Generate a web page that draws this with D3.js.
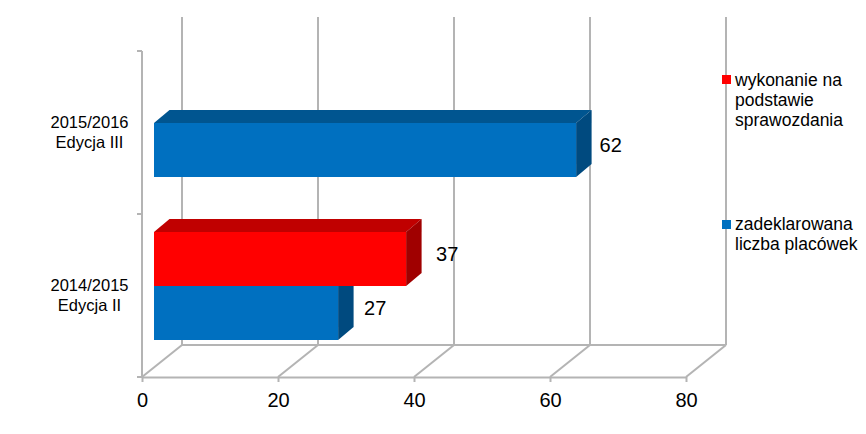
<!DOCTYPE html>
<html>
<head>
<meta charset="utf-8">
<script src="https://cdn.jsdelivr.net/npm/d3@7.9.0/dist/d3.min.js"></script>
<style>
  html, body { margin: 0; padding: 0; background: #fff; }
  svg { display: block; font-family: "Liberation Sans", Arial, sans-serif; }
</style>
</head>
<body>
<svg id="chart" width="866" height="434"></svg>
<script>
let categories = ['2014/2015', '2015/2016'];
let categoryEditions = ['Edycja II', 'Edycja III'];
let declared = [27, 62];
let reported = [37, null];
let xTicks = [0, 20, 40, 60, 80];

let legendRed = ['wykonanie na', 'podstawie', 'sprawozdania'];
let legendBlue = ['zadeklarowana', 'liczba placówek'];

let series = [
  { values: declared, slot: 0, front: '#0070c0', top: '#005590', side: '#004a7f', labelGaps: [26, 23.5] },
  { values: reported, slot: -1, front: '#ff0000', top: '#c00000', side: '#a00000', labelGaps: [30, 30] }
];

let svg = d3.select('#chart');
let gridColor = '#b4b4b4';

// front edge of the floor, the back wall sits up and to the right of it
let margin = { left: 142, right: 686, top: 51, bottom: 377 };
let wallDx = 40, wallDy = -32, wallTop = 17;
let barDx = 15.5, barDy = -13;
let barInset = 12, barHeight = 54, barShift = 13.5 - 23;

let x = d3.scaleLinear().domain([0, 80]).range([margin.left, margin.right]);
let y = d3.scaleBand().domain(categories).range([margin.bottom, margin.top]);

// walls and floor
let grid = svg.append('g').attr('stroke', gridColor).attr('stroke-width', 2).attr('fill', 'none');

grid.selectAll('.wall')
  .data(xTicks)
  .join('line')
  .attr('class', 'wall')
  .attr('x1', d => x(d) + wallDx)
  .attr('x2', d => x(d) + wallDx)
  .attr('y1', wallTop)
  .attr('y2', margin.bottom + wallDy);

grid.selectAll('.floor')
  .data(xTicks)
  .join('line')
  .attr('class', 'floor')
  .attr('x1', d => x(d))
  .attr('x2', d => x(d) + wallDx)
  .attr('y1', margin.bottom)
  .attr('y2', margin.bottom + wallDy);

grid.append('line')
  .attr('x1', x(0) + wallDx)
  .attr('x2', x(80) + wallDx)
  .attr('y1', margin.bottom + wallDy)
  .attr('y2', margin.bottom + wallDy);

// axes
let xAxis = svg.append('g')
  .attr('transform', `translate(0,${margin.bottom})`)
  .call(d3.axisBottom(x).tickValues(xTicks).tickSize(5).tickSizeOuter(0).tickPadding(11));
xAxis.select('.domain').attr('stroke', gridColor).attr('stroke-width', 2);
xAxis.selectAll('.tick line').attr('stroke', gridColor).attr('stroke-width', 2);
xAxis.selectAll('.tick text').attr('font-size', 20).attr('font-family', '"Liberation Sans", Arial, sans-serif').attr('fill', '#000');

let yAxis = svg.append('g')
  .attr('transform', `translate(${margin.left},0)`)
  .call(d3.axisLeft(y).tickValues([]).tickSize(0));
yAxis.select('.domain').attr('stroke', gridColor).attr('stroke-width', 2).attr('d', `M0,${margin.top}V${margin.bottom}`);
yAxis.selectAll('.cat-tick')
  .data([margin.top, (margin.top + margin.bottom) / 2, margin.bottom])
  .join('line')
  .attr('class', 'cat-tick')
  .attr('x1', -5)
  .attr('x2', 0)
  .attr('y1', d => d)
  .attr('y2', d => d)
  .attr('stroke', gridColor)
  .attr('stroke-width', 2);

// category labels
categories.forEach((c, i) => {
  let cy = y(c) + y.bandwidth() / 2;
  let t = svg.append('text')
    .attr('text-anchor', 'middle')
    .attr('font-size', 16.5)
    .attr('fill', '#000');
  t.append('tspan').attr('x', 89.5).attr('y', cy - 5).text(c);
  t.append('tspan').attr('x', 89.5).attr('y', cy + 15).text(categoryEditions[i]);
});

// bars
series.forEach(s => {
  let rows = categories
    .map((c, i) => ({ category: c, value: s.values[i], gap: s.labelGaps[i] }))
    .filter(d => d.value != null);

  let barY = d => y(d.category) + y.bandwidth() / 2 + barShift + s.slot * barHeight;
  let left = x(0) + barInset;
  let right = d => x(d.value) + barInset + 0.5;
  let bars = svg.append('g').selectAll('g').data(rows).join('g');

  bars.append('path')
    .attr('fill', s.top)
    .attr('d', d => `M${left},${barY(d)}l${barDx},${barDy}H${right(d) + barDx}l${-barDx},${-barDy}Z`);
  bars.append('path')
    .attr('fill', s.side)
    .attr('d', d => `M${right(d)},${barY(d)}l${barDx},${barDy}v${barHeight}l${-barDx},${-barDy}Z`);
  bars.append('rect')
    .attr('fill', s.front)
    .attr('x', left)
    .attr('y', barY)
    .attr('width', d => right(d) - left)
    .attr('height', barHeight);
  bars.append('text')
    .attr('x', d => right(d) + d.gap)
    .attr('y', d => barY(d) + barHeight / 2 - 4)
    .attr('dy', '0.32em')
    .attr('font-size', 20)
    .attr('fill', '#000')
    .text(d => d.value);
});

// legend
function legendEntry(lines, color, top, baseline) {
  let g = svg.append('g');
  g.append('rect')
    .attr('x', 722)
    .attr('y', top)
    .attr('width', 9)
    .attr('height', 9)
    .attr('fill', color);
  g.selectAll('text')
    .data(lines)
    .join('text')
    .attr('x', 735)
    .attr('y', (d, i) => baseline + i * 20)
    .attr('font-size', 17.5)
    .attr('fill', '#000')
    .text(d => d);
}
legendEntry(legendRed, '#ff0000', 75, 86);
legendEntry(legendBlue, '#0070c0', 220, 230);
</script>
</body>
</html>
